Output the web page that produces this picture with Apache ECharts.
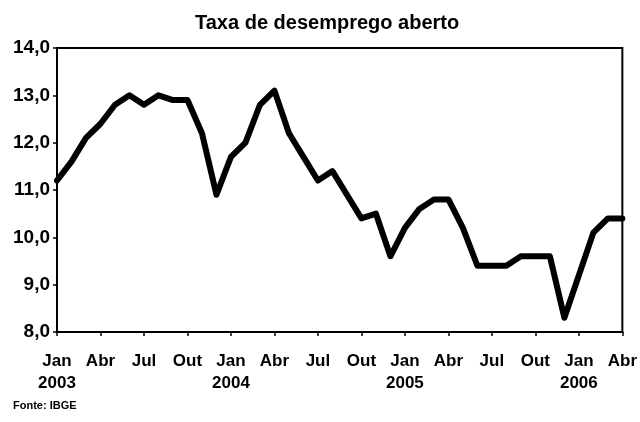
<!DOCTYPE html>
<html>
<head>
<meta charset="utf-8">
<script src="https://cdn.jsdelivr.net/npm/echarts@6/dist/echarts.min.js"></script>
<style>
  html, body { margin: 0; padding: 0; background: #fff; }
  #chart { width: 640px; height: 422px; }
</style>
</head>
<body>
<div id="chart"></div>
<script>
var months = ['Jan', 'Fev', 'Mar', 'Abr', 'Mai', 'Jun', 'Jul', 'Ago', 'Set', 'Out', 'Nov', 'Dez']
var years = ['2003', '2004', '2005', '2006']

// taxa de desemprego aberto (%), jan/2003 - abr/2006
var rate2003 = [11.2, 11.6, 12.1, 12.4, 12.8, 13.0, 12.8, 13.0, 12.9, 12.9, 12.2, 10.9]
var rate2004 = [11.7, 12.0, 12.8, 13.1, 12.2, 11.7, 11.2, 11.4, 10.9, 10.4, 10.5, 9.6]
var rate2005 = [10.2, 10.6, 10.8, 10.8, 10.2, 9.4, 9.4, 9.4, 9.6, 9.6, 9.6, 8.3]
var rate2006 = [9.2, 10.1, 10.4, 10.4]

var yMin = 8
var yMax = 14
var yStep = 1

var categories = []
years.forEach(function (y, i) {
  var n = i === 3 ? 4 : 12
  for (var m = 0; m < n; m++) {
    categories.push(m === 0 ? months[m] + '\n' + y : months[m])
  }
})
var values = rate2003.concat(rate2004, rate2005, rate2006)

var myChart = echarts.init(document.getElementById('chart'))
var font = 'Liberation Sans, Arial, sans-serif'
var option = {
  animation: false,
  title: {
    text: 'Taxa de desemprego aberto',
    left: 190,
    top: 8,
    textStyle: {
      fontSize: 20,
      fontWeight: 'bold',
      fontFamily: font,
      color: '#000'
    }
  },
  graphic: [
    {
      type: 'text',
      left: 13,
      top: 400,
      style: {
        text: 'Fonte: IBGE',
        font: 'bold 11px ' + font,
        fill: '#000'
      }
    }
  ],
  grid: {
    left: 57,
    right: 17,
    top: 48,
    bottom: 90,
    show: true,
    borderColor: '#000',
    borderWidth: 2
  },
  xAxis: {
    type: 'category',
    boundaryGap: false,
    data: categories,
    axisLine: { lineStyle: { color: '#000', width: 2 } },
    axisTick: {
      interval: 2,
      length: 4,
      lineStyle: { color: '#000', width: 1.5 }
    },
    axisLabel: {
      interval: 2,
      margin: 18,
      color: '#000',
      fontSize: 17,
      fontWeight: 'bold',
      fontFamily: font,
      lineHeight: 22
    },
    splitLine: { show: false }
  },
  yAxis: {
    type: 'value',
    min: yMin,
    max: yMax,
    interval: yStep,
    axisLine: { show: true, lineStyle: { color: '#000', width: 2 } },
    axisTick: { show: true, length: 4, lineStyle: { color: '#000', width: 1.5 } },
    axisLabel: {
      margin: 7,
      color: '#000',
      fontSize: 19,
      fontWeight: 'bold',
      fontFamily: font,
      formatter: function (v) { return v.toFixed(1).replace('.', ',') }
    },
    splitLine: { show: false }
  },
  series: [
    {
      type: 'line',
      data: values,
      showSymbol: false,
      lineStyle: { color: '#000', width: 6, join: 'round', cap: 'round' }
    }
  ]
}
myChart.setOption(option)
</script>
</body>
</html>
